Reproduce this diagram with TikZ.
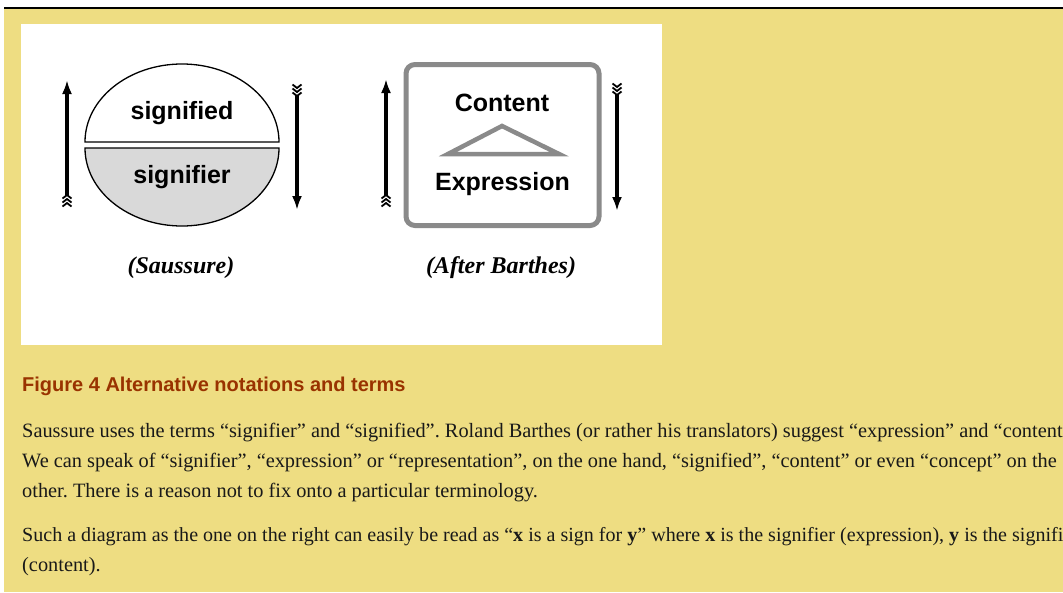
\documentclass[tikz,border=0pt]{standalone}
\usepackage{fontspec}
\setmainfont{Liberation Serif}
\newfontfamily\labelfont{Liberation Sans}
\usepackage{xcolor}
\usetikzlibrary{arrows.meta,positioning}
\definecolor{pagebg}{RGB}{238,221,130}
\definecolor{headred}{RGB}{153,51,0}
\definecolor{boxgray}{RGB}{138,138,138}
\definecolor{halfgray}{RGB}{217,217,217}
\frenchspacing

\begin{document}
\begin{tikzpicture}[x=1pt,y=-1pt,
  lbl/.style={font=\labelfont\bfseries\fontsize{25}{30}\selectfont,inner sep=0pt},
  captext/.style={font=\bfseries\itshape\fontsize{24}{28}\selectfont,inner sep=0pt},
  bodyline/.style={anchor=base west,inner sep=0pt,font=\fontsize{20.35}{24}\selectfont,text=black!90},
  sigarrow/.style={line width=3.5pt,-{Latex[length=14pt,width=10pt]}},
  barthesbox/.style={draw=boxgray,line width=5pt,rounded corners=9pt,minimum width=193pt,minimum height=161pt},
  fletch/.pic={\foreach \k in {0,4,8} \draw[line width=1.8pt] (-4.5,\k+3.5) -- (0,\k) -- (4.5,\k+3.5);}]
  \clip (0,0) rectangle (1063,592);
  \fill[pagebg] (4,9) rectangle (1063,592);
  \draw[line width=2pt] (4,8) -- (1063,8);
  \fill[white] (21,24) rectangle (662,345);
  % Saussure
  \draw[line width=1.3pt,fill=white] (85,142) arc[start angle=180,end angle=360,x radius=97,y radius=78] -- cycle;
  \draw[line width=1.3pt,fill=halfgray] (85,148) arc[start angle=180,end angle=0,x radius=97,y radius=78] -- cycle;
  \node[lbl] (sd) at (182,113) {signified};
  \node[lbl] (sr) at (182,177) {signifier};
  \coordinate (sl-top) at (67,80); \coordinate (sl-bot) at (67,195);
  \coordinate (sr-top) at (297,96); \coordinate (sr-bot) at (297,210);
  \draw[sigarrow] (sl-bot) -- (sl-top); \pic at (sl-bot) {fletch};
  \draw[sigarrow] (sr-top) -- (sr-bot); \pic[rotate=180] at (sr-top) {fletch};
  \node[captext] (saus) at (181,268) {(Saussure)};
  % after Barthes
  \node[barthesbox] (box) at (502.5,145) {};
  \node[lbl] (cont) at (502,102.5) {Content};
  \node[lbl] (expr) at (502.5,184) {Expression};
  \draw[boxgray,line width=4.5pt,fill=white] (448,154) -- (502,126) -- (559,154) -- cycle;
  \coordinate (bl-top) at (386,79); \coordinate (bl-bot) at (386,195);
  \coordinate (br-top) at (617,95); \coordinate (br-bot) at (617,211);
  \draw[sigarrow] (bl-bot) -- (bl-top); \pic at (bl-bot) {fletch};
  \draw[sigarrow] (br-top) -- (br-bot); \pic[rotate=180] at (br-top) {fletch};
  \node[captext] (barth) at (501,268) {(After Barthes)};
  % caption and text
  \node[anchor=base west,inner sep=0pt,text=headred,font=\labelfont\bfseries\fontsize{20}{24}\selectfont] (head) at (22,391) {Figure 4 Alternative notations and terms};
  \node[bodyline] (l1) at (22,437) {Saussure uses the terms “signifier” and “signified”. Roland Barthes (or rather his translators) suggest “expression” and “content};
  \node[bodyline] (l2) at (22,467) {We can speak of “signifier”, “expression” or “representation”, on the one hand, “signified”, “content” or even “concept” on the};
  \node[bodyline] (l3) at (22,497) {other. There is a reason not to fix onto a particular terminology.};
  \node[bodyline,font=\fontsize{20.05}{24}\selectfont] (l4) at (22,541) {Such a diagram as the one on the right can easily be read as “\textbf{x} is a sign for \textbf{y}” where \textbf{x} is the signifier (expression), \textbf{y} is the signified};
  \node[bodyline] (l5) at (22,571) {(content).};
\end{tikzpicture}
\end{document}
